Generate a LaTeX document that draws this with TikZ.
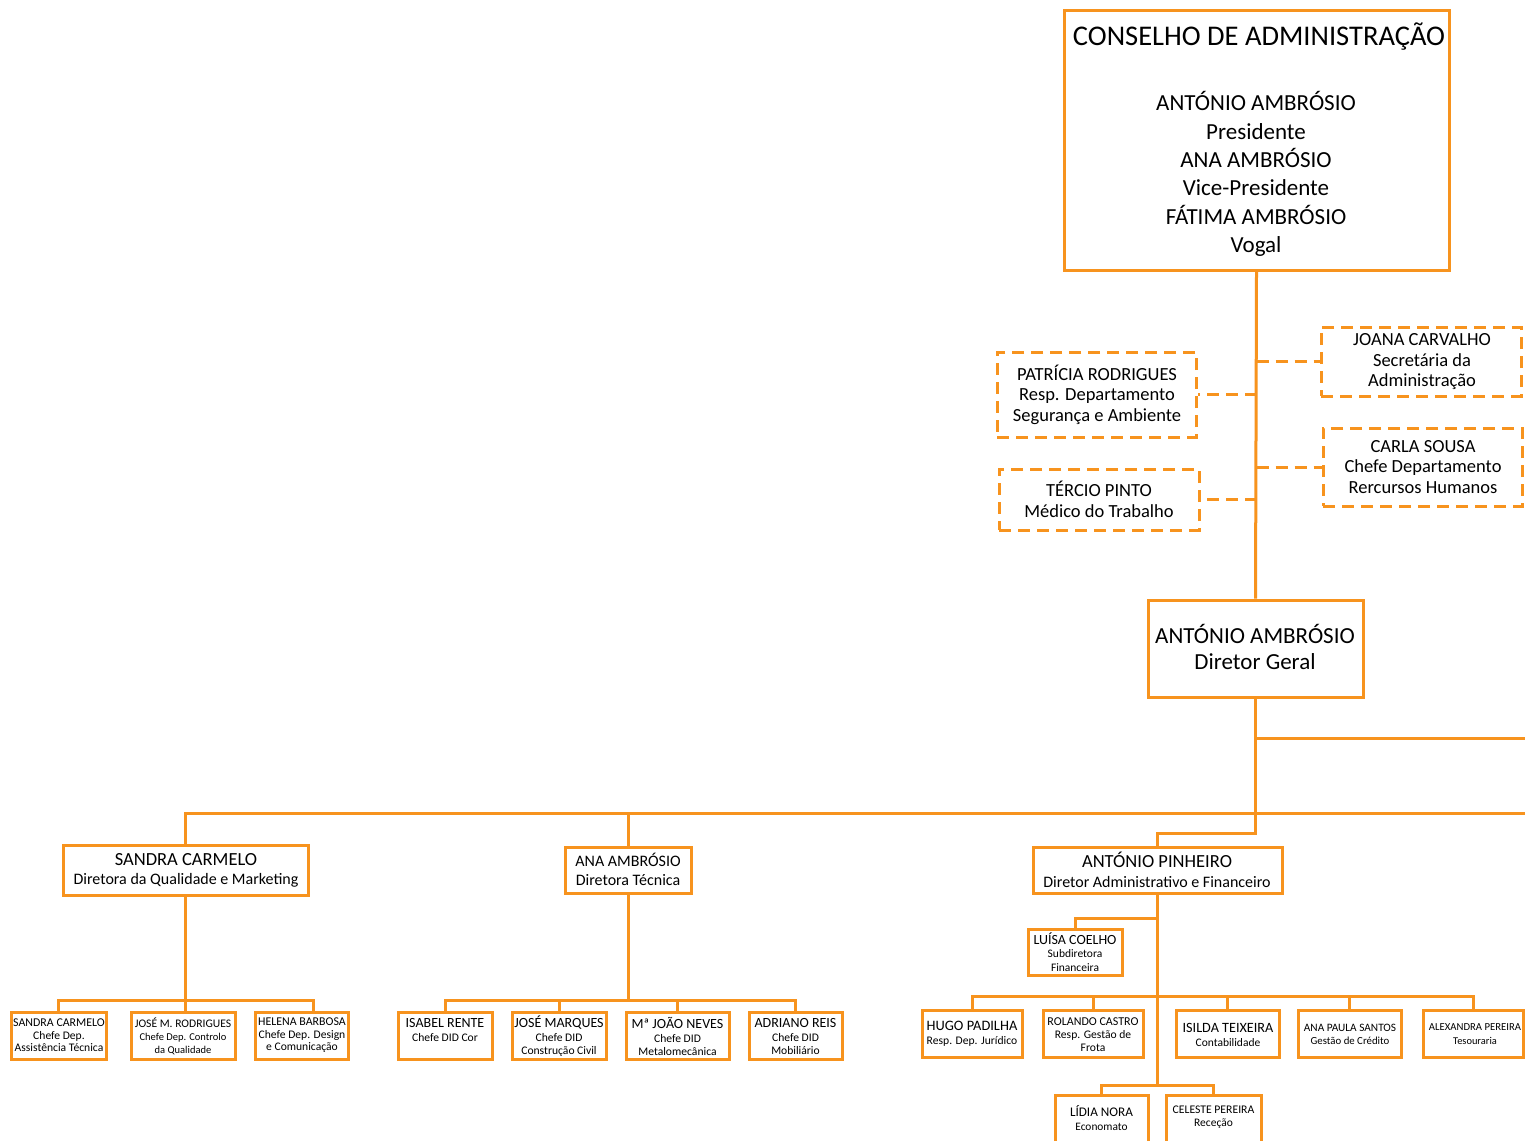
\documentclass[tikz,border=0pt]{standalone}
\usepackage{fontspec}
\setmainfont{Carlito}
\newcommand\fs[2]{\fontsize{#1}{#2}\selectfont}
\definecolor{org}{HTML}{F7931E}
\tikzset{
  boxst/.style={draw=org, line width=3pt, rectangle, inner sep=0pt},
  dboxst/.style={draw=org, line width=3pt, rectangle, inner sep=0pt, dash pattern=on 12pt off 7pt},
  link/.style={draw=org, line width=3pt},
  dlink/.style={draw=org, line width=3pt, dash pattern=on 12pt off 7pt},
  txt/.style={align=center, inner sep=0pt, text=black}
}
% name, x1, y1, x2, y2
\newcommand\bx[6][boxst]{%
  \node[#1, minimum width={(#5-#3)*1pt}, minimum height={(#6-#4)*1pt}] (#2) at ({(#3+#5)/2},{(#4+#6)/2}) {};}
\begin{document}
\begin{tikzpicture}[x=1pt,y=-1pt]
\useasboundingbox (0,0) rectangle (1525,1140);
\clip (0,0) rectangle (1525,1140);
\fill[white] (0,0) rectangle (1525,1140);

% ---- boxes
\bx{ca}{1064}{11}{1449}{270}
\bx[dboxst]{joana}{1321}{327}{1521}{396}
\bx[dboxst]{patricia}{997}{352}{1196}{437}
\bx[dboxst]{carla}{1323}{428}{1522}{506}
\bx[dboxst]{tercio}{999}{469}{1199}{530}
\bx{dg}{1148}{600}{1363}{697}
\bx{sandra}{63}{845}{308}{895}
\bx{anaa}{565}{847}{691}{893}
\bx{pinheiro}{1033}{847}{1282}{893}
\bx{luisa}{1028}{929}{1122}{975}
\bx{sc}{11}{1012}{106}{1059}
\bx{jmr}{131}{1012}{235}{1059}
\bx{hb}{255}{1012}{348}{1059}
\bx{ir}{398}{1012}{492}{1059}
\bx{jm}{512}{1012}{606}{1059}
\bx{mjn}{626}{1012}{729}{1059}
\bx{ar}{749}{1012}{842}{1059}
\bx{hp}{922}{1010}{1022}{1057}
\bx{rc}{1043}{1010}{1143}{1057}
\bx{it}{1176}{1010}{1279}{1057}
\bx{aps}{1298}{1010}{1401}{1057}
\bx{ap}{1423}{1010}{1523}{1057}
\bx{ln}{1055}{1095}{1148}{1150}
\bx{cp}{1166}{1095}{1261}{1150}

% ---- texts
\node[txt, font=\fs{28.5}{30}] (ca-t) at (1259,37) {CONSELHO DE ADMINISTRAÇÃO};
\node[txt, font=\fs{23}{28.4}] (ca-b) at (1256,174) {ANTÓNIO AMBRÓSIO\\Presidente\\ANA AMBRÓSIO\\Vice-Presidente\\FÁTIMA AMBRÓSIO\\Vogal};
\node[txt, font=\fs{18.5}{20.5}] (joana-t) at (1422,362) {JOANA CARVALHO\\Secretária da\\Administração};
\node[txt, font=\fs{18.5}{20.5}] (patricia-t) at (1097,394.5) {PATRÍCIA RODRIGUES\\Resp. Departamento\\Segurança e Ambiente};
\node[txt, font=\fs{18.5}{20.5}] (carla-t) at (1423,467) {CARLA SOUSA\\Chefe Departamento\\Rercursos Humanos};
\node[txt, font=\fs{18.5}{21}] (tercio-t) at (1099,499) {TÉRCIO PINTO\\Médico do Trabalho};
\node[txt, font=\fs{23}{26}] (dg-t) at (1255,647) {ANTÓNIO AMBRÓSIO\\Diretor Geral};
\node[txt, font=\fs{18.5}{19.5}] (sandra-t) at (186,870.5) {SANDRA CARMELO\\{\fs{16}{19.5}Diretora da Qualidade e Marketing}};
\node[txt, font=\fs{16}{19}] (anaa-t) at (628,869) {ANA AMBRÓSIO\\Diretora Técnica};
\node[txt, font=\fs{18.5}{20}] (pinheiro-t) at (1157,869.5) {ANTÓNIO PINHEIRO\\{\fs{16}{20}Diretor Administrativo e Financeiro}};
\node[txt, font=\fs{14}{13.5}] (luisa-t) at (1075,952) {LUÍSA COELHO\\{\fs{11.5}{13.5}Subdiretora}\\{\fs{11.5}{13.5}Financeira}};

\node[txt, font=\fs{11.9}{12.5}] (sc-t) at (59,1035.5) {SANDRA CARMELO\\{\fs{11.6}{12.5}Chefe Dep.}\\{\fs{11.6}{12.5}Assistência Técnica}};
\node[txt, font=\fs{11.6}{13}] (jmr-t) at (183,1036) {JOSÉ M. RODRIGUES\\{\fs{10.5}{13}Chefe Dep. Controlo}\\{\fs{10.5}{13}da Qualidade}};
\node[txt, font=\fs{11.9}{12.5}] (hb-t) at (302,1035.5) {HELENA BARBOSA\\{\fs{11.6}{12.5}Chefe Dep. Design}\\{\fs{11.6}{12.5}e Comunicação}};

\node[txt, font=\fs{14}{14}] (ir-t) at (445,1030) {ISABEL RENTE\\{\fs{11.6}{14}Chefe DID Cor}};
\node[txt, font=\fs{14}{13.5}] (jm-t) at (559,1036.5) {JOSÉ MARQUES\\{\fs{11.6}{13.5}Chefe DID}\\{\fs{11.6}{13.5}Construção Civil}};
\node[txt, font=\fs{14}{13.5}] (mjn-t) at (677.5,1036.5) {Mª JOÃO NEVES\\{\fs{11.6}{13.5}Chefe DID}\\{\fs{11.6}{13.5}Metalomecânica}};
\node[txt, font=\fs{14}{13.5}] (ar-t) at (795.5,1036.5) {ADRIANO REIS\\{\fs{11.6}{13.5}Chefe DID}\\{\fs{11.6}{13.5}Mobiliário}};

\node[txt, font=\fs{14.4}{14}] (hp-t) at (972,1034) {HUGO PADILHA\\{\fs{11.6}{14}Resp. Dep. Jurídico}};
\node[txt, font=\fs{12}{13}] (rc-t) at (1093,1035) {ROLANDO CASTRO\\{\fs{11.6}{13}Resp. Gestão de}\\{\fs{11.6}{13}Frota}};
\node[txt, font=\fs{14.2}{14}] (it-t) at (1228,1035) {ISILDA TEIXEIRA\\{\fs{11.5}{14}Contabilidade}};
\node[txt, font=\fs{11.3}{13.5}] (aps-t) at (1350,1034.5) {ANA PAULA SANTOS\\{\fs{10.8}{13.5}Gestão de Crédito}};
\node[txt, font=\fs{10.7}{14}] (ap-t) at (1475,1034) {ALEXANDRA PEREIRA\\{\fs{10.4}{14}Tesouraria}};
\node[txt, font=\fs{13.2}{14}] (ln-t) at (1101.5,1118) {LÍDIA NORA\\{\fs{11.4}{14}Economato}};
\node[txt, font=\fs{11.7}{13}] (cp-t) at (1213.5,1117.5) {CELESTE PEREIRA\\{\fs{11.5}{13}Receção}};

% ---- connectors
\coordinate (e1) at (1525,738);
\coordinate (e2) at (1525,813);
\coordinate (j1) at (1256,833);
\coordinate (sb) at (0,1000);
\coordinate (lc) at (0,918);
\coordinate (pb) at (0,996);
\coordinate (lb) at (0,1085);

\draw[link] (ca.south) -- (dg.north);
\draw[dlink] (joana.west -| ca.south) -- (joana.west);
\draw[dlink] (patricia.east -| ca.south) -- (patricia.east);
\draw[dlink] (carla.west -| ca.south) -- (carla.west);
\draw[dlink] (tercio.east -| ca.south) -- (tercio.east);

\draw[link] (dg.south) -- (dg.south |- j1) -- (pinheiro.north |- j1) -- (pinheiro.north);
\draw[link] (dg.south |- e1) -- (e1);
\draw[link] (sandra.north) -- (sandra.north |- e2) -- (e2);
\draw[link] (anaa.north) -- (anaa.north |- e2);

% Sandra branch
\draw[link] (sandra.south) -- (sandra.south |- jmr.north);
\draw[link] (sc.north) -- (sc.north |- sb) -- ([xshift=11.5pt]hb.north |- sb) -- ([xshift=11.5pt]hb.north);

% Ana branch
\draw[link] (anaa.south) -- (anaa.south |- sb);
\draw[link] (ir.north) -- (ir.north |- sb) -- (ar.north |- sb) -- (ar.north);
\draw[link] (jm.north) -- (jm.north |- sb);
\draw[link] (mjn.north) -- (mjn.north |- sb);

% Pinheiro branch
\draw[link] (pinheiro.south) -- (pinheiro.south |- lb);
\draw[link] (pinheiro.south |- lc) -- (luisa.north |- lc) -- (luisa.north);
\draw[link] (hp.north) -- (hp.north |- pb) -- (ap.north |- pb) -- (ap.north);
\draw[link] (rc.north) -- (rc.north |- pb);
\draw[link] (it.north) -- (it.north |- pb);
\draw[link] (aps.north) -- (aps.north |- pb);
\draw[link] (ln.north) -- (ln.north |- lb) -- (cp.north |- lb) -- (cp.north);
\end{tikzpicture}
\end{document}
